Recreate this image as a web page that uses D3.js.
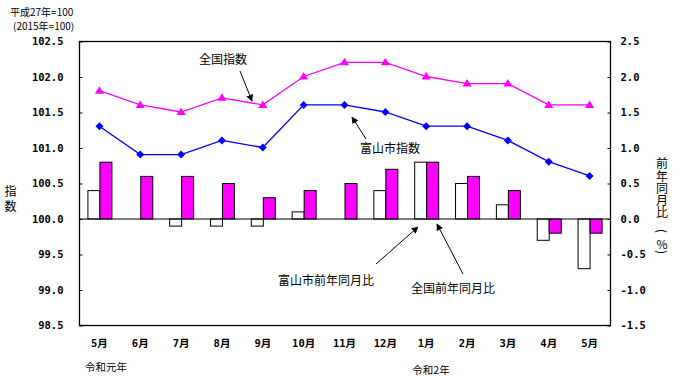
<!DOCTYPE html>
<html><head><meta charset="utf-8">
<script src="https://cdn.jsdelivr.net/npm/d3@7"></script>
<style>body{margin:0;background:#fff}</style>
</head><body>
<svg id="c" width="679" height="377"></svg>
<script>
const months = ["5月","6月","7月","8月","9月","10月","11月","12月","1月","2月","3月","4月","5月"];
const toyamaIndex = [101.3,100.9,100.9,101.1,101.0,101.6,101.6,101.5,101.3,101.3,101.1,100.8,100.6];
const nationalIndex = [101.8,101.6,101.5,101.7,101.6,102.0,102.2,102.2,102.0,101.9,101.9,101.6,101.6];
const toyamaYoY = [0.4,0.0,-0.1,-0.1,-0.1,0.1,0.0,0.4,0.8,0.5,0.2,-0.3,-0.7];
const nationalYoY = [0.8,0.6,0.6,0.5,0.3,0.4,0.5,0.7,0.8,0.6,0.4,-0.2,-0.2];
const leftTicks = [98.5,99.0,99.5,100.0,100.5,101.0,101.5,102.0,102.5];
const rightTicks = [-1.5,-1.0,-0.5,0.0,0.5,1.0,1.5,2.0,2.5];

const svg = d3.select("#c");
const L = 79, R = 610, T = 41, B = 325;
const jp = "'Noto Sans CJK JP', sans-serif";
const num = "'DejaVu Sans Mono', 'Noto Sans CJK JP', monospace";

const idx = d3.range(months.length);
const x = d3.scaleBand().domain(idx).range([L, R]).padding(0);
const cx = i => x(i) + x.bandwidth() / 2;
const yL = d3.scaleLinear().domain([98.5, 102.5]).range([B, T]);
const yR = d3.scaleLinear().domain([-1.5, 2.5]).range([B, T]);
const sub = d3.scaleBand().domain(["t", "n"]).range([-12, 12]);

// frame
svg.append("rect").attr("x", L + 0.5).attr("y", T + 0.5).attr("width", R - L).attr("height", B - T)
  .attr("fill", "none").attr("stroke", "#000").attr("stroke-width", 1.3);

// axes
const gl = svg.append("g").attr("transform", `translate(${L + 0.5},0.5)`)
  .call(d3.axisLeft(yL).tickValues(leftTicks).tickSize(-3).tickPadding(16).tickFormat(d3.format(".1f")));
const gr = svg.append("g").attr("transform", `translate(${R + 0.5},0.5)`)
  .call(d3.axisRight(yR).tickValues(rightTicks).tickSize(-3).tickPadding(10).tickFormat(d3.format(".1f")));
[gl, gr].forEach(g => {
  g.select(".domain").remove();
  g.selectAll("text").attr("font-family", num).attr("font-size", 10.5).attr("fill", "#000").attr("font-weight", "bold");
  g.selectAll("line").attr("stroke", "#000");
});
gr.selectAll("text").text(d => d3.format(".1f")(d).replace("−", "-"));

const gb = svg.append("g").attr("transform", `translate(0,${B})`)
  .call(d3.axisBottom(x).tickSize(0).tickPadding(15).tickFormat(i => months[i]));
gb.select(".domain").remove();
gb.selectAll("text").attr("font-family", num).attr("font-size", 10.5).attr("fill", "#000").attr("font-weight", "bold");

// bars
const bars = svg.append("g");
bars.selectAll("rect.t").data(idx.filter(i => toyamaYoY[i] !== 0)).join("rect")
  .attr("x", i => cx(i) + sub("t") + 0.5).attr("width", sub.bandwidth())
  .attr("y", i => Math.min(yR(toyamaYoY[i]), yR(0)) + 0.5)
  .attr("height", i => Math.abs(yR(toyamaYoY[i]) - yR(0)))
  .attr("fill", "#fff").attr("stroke", "#000").attr("stroke-width", 1);
bars.selectAll("rect.n").data(idx).join("rect")
  .attr("x", i => cx(i) + sub("n") + 0.5).attr("width", sub.bandwidth())
  .attr("y", i => Math.min(yR(nationalYoY[i]), yR(0)) + 0.5)
  .attr("height", i => Math.abs(yR(nationalYoY[i]) - yR(0)))
  .attr("fill", "#ff00ff").attr("stroke", "#000").attr("stroke-width", 1);

// zero line
svg.append("line").attr("x1", L).attr("x2", R).attr("y1", yR(0) + 0.5).attr("y2", yR(0) + 0.5)
  .attr("stroke", "#000").attr("stroke-width", 1.2);

// lines
const line = arr => d3.line().x(i => cx(i)).y(i => yL(arr[i]))(idx);
svg.append("path").attr("d", line(nationalIndex)).attr("fill", "none").attr("stroke", "#ff00ff").attr("stroke-width", 1.3);
svg.append("path").attr("d", line(toyamaIndex)).attr("fill", "none").attr("stroke", "#0000ff").attr("stroke-width", 1.3);
svg.append("g").selectAll("path").data(idx).join("path")
  .attr("transform", i => `translate(${cx(i)},${yL(nationalIndex[i])})`)
  .attr("d", "M0,-4.5L4.5,3L-4.5,3Z").attr("fill", "#ff00ff");
svg.append("g").selectAll("path").data(idx).join("path")
  .attr("transform", i => `translate(${cx(i)},${yL(toyamaIndex[i])})`)
  .attr("d", "M0,-4L4,0L0,4L-4,0Z").attr("fill", "#0000ff");

// arrows
const defs = svg.append("defs");
defs.append("marker").attr("id", "ah").attr("viewBox", "0 0 10 10").attr("refX", 9).attr("refY", 5)
  .attr("markerWidth", 7).attr("markerHeight", 7).attr("markerUnits", "userSpaceOnUse").attr("orient", "auto")
  .append("path").attr("d", "M0,0L10,5L0,10Z").attr("fill", "#000");
const annotations = [
  {text: "全国指数", tx: 223, ty: 64, x1: 240, y1: 71, x2: 252, y2: 101},
  {text: "富山市指数", tx: 390, ty: 153, x1: 366, y1: 139, x2: 352, y2: 117},
  {text: "富山市前年同月比", tx: 326, ty: 285, x1: 376, y1: 264, x2: 418, y2: 227},
  {text: "全国前年同月比", tx: 453, ty: 293, x1: 463, y1: 274, x2: 437, y2: 224}
];
annotations.forEach(a => {
  svg.append("line").attr("x1", a.x1).attr("y1", a.y1).attr("x2", a.x2).attr("y2", a.y2)
    .attr("stroke", "#000").attr("stroke-width", 1).attr("marker-end", "url(#ah)");
  svg.append("text").attr("x", a.tx).attr("y", a.ty).attr("text-anchor", "middle")
    .attr("font-family", jp).attr("font-size", 12).attr("fill", "#000").text(a.text);
});

// titles
svg.append("text").attr("x", 10).attr("y", 16).attr("font-family", jp).attr("font-size", 10).text("平成27年=100");
svg.append("text").attr("x", 13).attr("y", 30).attr("font-family", jp).attr("font-size", 10).text("(2015年=100)");
svg.append("text").attr("x", 106).attr("y", 371).attr("text-anchor", "middle").attr("font-family", jp).attr("font-size", 10.5).text("令和元年");
svg.append("text").attr("x", 431).attr("y", 374).attr("text-anchor", "middle").attr("font-family", jp).attr("font-size", 10.5).text("令和2年");

svg.append("text").attr("x", 10.5).attr("y", 185).attr("font-family", jp).attr("font-size", 12)
  .style("writing-mode", "vertical-rl").attr("letter-spacing", 3).text("指数");

const rightTitle = [
  {c: "前", y: 162, r: 0}, {c: "年", y: 175, r: 0}, {c: "同", y: 187, r: 0}, {c: "月", y: 199, r: 0},
  {c: "比", y: 211, r: 0}, {c: "(", y: 231, r: 90}, {c: "%", y: 243, r: 0}, {c: ")", y: 252, r: 90}
];
svg.append("g").selectAll("text").data(rightTitle).join("text")
  .attr("transform", d => `translate(662,${d.y}) rotate(${d.r})`).attr("text-anchor", "middle").attr("dominant-baseline", "central")
  .attr("font-family", jp).attr("font-size", 12).text(d => d.c);
</script>
</body></html>
